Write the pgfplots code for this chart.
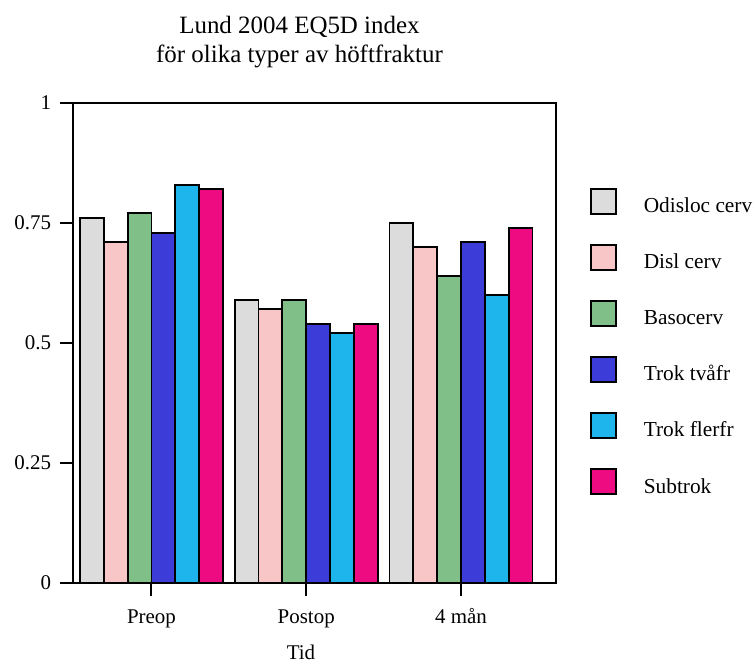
\documentclass[border=0pt]{standalone}
\usepackage{fontspec}
\setmainfont{Liberation Serif}
\usepackage{pgfplots}
\pgfplotsset{compat=1.18}
\definecolor{cA}{HTML}{DCDCDC}
\definecolor{cB}{HTML}{F8C6C6}
\definecolor{cC}{HTML}{80BF88}
\definecolor{cD}{HTML}{3C3CD8}
\definecolor{cE}{HTML}{1EB4EC}
\definecolor{cF}{HTML}{EE0A80}
\begin{document}
\begin{tikzpicture}
\path[use as bounding box] (0pt,0pt) rectangle (566.25pt,498pt);
\node[anchor=base, font=\fontsize{18.7}{22}\selectfont] at (224.6pt,472.5pt) {Lund 2004 EQ5D index};
\node[anchor=base, font=\fontsize{18.7}{22}\selectfont] at (224.6pt,450.75pt) {för olika typer av höftfraktur};
\node[anchor=base, font=\fontsize{15.7}{18}\selectfont] at (225.75pt,3.75pt) {Tid};
\begin{axis}[
  at={(54.75pt,60.75pt)}, anchor=south west,
  scale only axis, width=362.25pt, height=360pt,
  ybar, bar width=0.154,
  legend image code/.code={\draw[#1, line width=1.4pt] (0pt,-1pt) rectangle (18.75pt,17.8pt);},
  ymin=0, ymax=1, xmin=-0.507, xmax=2.614,
  ytick={0,0.25,0.5,0.75,1},
  yticklabels={0,0.25,0.5,0.75,1},
  xtick={0,1,2}, xticklabels={Preop,Postop,4 mån},
  xtick pos=left, ytick pos=left,
  tick align=outside, major tick length=9.5pt,
  every tick/.style={black, line width=1.5pt},
  axis line style={line width=1.5pt},
  ticklabel style={font=\fontsize{15.7}{18}\selectfont},
  yticklabel style={anchor=east, inner sep=0pt, xshift=-6.75pt},
  xticklabel style={anchor=base, inner sep=0pt, yshift=-21pt},
  legend style={at={(1.0704,0.824)}, anchor=north west, draw=none, fill=none,
    inner sep=0pt, row sep=21.9pt, column sep=20pt,
    font=\fontsize{16}{19}\selectfont,
    nodes={inner sep=0pt, anchor=base west, text depth=0pt}},
  legend cell align=left,
]
\addplot[draw=black, line width=1.4pt, fill=cA, bar shift=-0.385] coordinates {(0,0.76) (1,0.59) (2,0.75)};
\addplot[draw=black, line width=1.4pt, fill=cB, bar shift=-0.231] coordinates {(0,0.71) (1,0.57) (2,0.70)};
\addplot[draw=black, line width=1.4pt, fill=cC, bar shift=-0.077] coordinates {(0,0.77) (1,0.59) (2,0.64)};
\addplot[draw=black, line width=1.4pt, fill=cD, bar shift=0.077] coordinates {(0,0.73) (1,0.54) (2,0.71)};
\addplot[draw=black, line width=1.4pt, fill=cE, bar shift=0.231] coordinates {(0,0.83) (1,0.52) (2,0.60)};
\addplot[draw=black, line width=1.4pt, fill=cF, bar shift=0.385] coordinates {(0,0.82) (1,0.54) (2,0.74)};
\legend{Odisloc cerv, Disl cerv, Basocerv, Trok tvåfr, Trok flerfr, Subtrok}
\end{axis}
\end{tikzpicture}
\end{document}
